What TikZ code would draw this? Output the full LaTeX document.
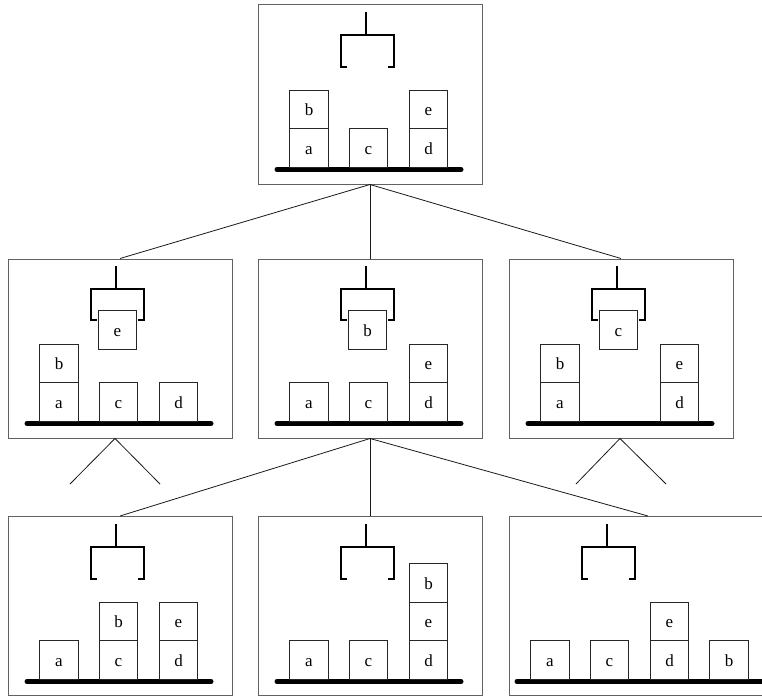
\documentclass[tikz,border=0pt]{standalone}
\usepackage{fontspec}
\setmainfont{Liberation Serif}
\begin{document}
\begin{tikzpicture}[x=1pt,y=-1pt,
  panel/.style={draw=black!62,line width=1pt,minimum width=224pt,minimum height=179pt,inner sep=0pt},
  blk/.style={draw=black!85,fill=white,line width=0.7pt,minimum size=38.5pt,inner sep=0pt,
    text height=12pt,text depth=0pt,font=\fontsize{17}{19}\selectfont},
  grip/.style={line width=1.8pt,line cap=butt},
  ground/.style={line width=5pt,line cap=round},
  link/.style={draw=black!90,line width=0.8pt}]
\useasboundingbox (0,0) rectangle (762,698);
\clip (0,0) rectangle (762,698);
% panels
\node[panel] (P0) at (370,94.5) {};
\node[panel] (P1) at (120,348.5) {};
\node[panel] (P2) at (370,348.5) {};
\node[panel] (P3) at (621,348.5) {};
\node[panel] (P4) at (120,606) {};
\node[panel] (P5) at (370,606) {};
\node[panel,minimum width=278pt] (P6) at (648,606) {};
% connectors
\draw[link] (P0.south) -- (P1.north);
\draw[link] (P0.south) -- (P2.north);
\draw[link] (P0.south) -- (P3.north);
\draw[link] (P2.south) -- (P4.north);
\draw[link] (P2.south) -- (P5.north);
\draw[link] (P2.south) -- (P6.north);
\coordinate (A1) at (115,438.5);
\coordinate (F1l) at (70,484);
\coordinate (F1r) at (160,484);
\coordinate (A3) at (620,438.5);
\coordinate (F3l) at (576,484);
\coordinate (F3r) at (666,484);
\draw[link] (F1l) -- (A1) -- (F1r);
\draw[link] (F3l) -- (A3) -- (F3r);
% P0 contents
\begin{scope}[shift={(258,5)}]
  \draw[grip] (108,7) -- (108,30);
  \draw[grip] (89,62) -- (83,62) -- (83,30) -- (136,30) -- (136,62) -- (130,62);
  \draw[ground] (19,164.5) -- (203,164.5);
  \node[blk] (P0a) at (51,143) {a};
  \node[blk] (P0b) at (51,104.5) {b};
  \node[blk] (P0c) at (110.5,143) {c};
  \node[blk] (P0d) at (170.5,143) {d};
  \node[blk] (P0e) at (170.5,104.5) {e};
\end{scope}
% P1 contents
\begin{scope}[shift={(8,259)}]
  \draw[grip] (108,7) -- (108,30);
  \draw[grip] (89,61) -- (83,61) -- (83,30) -- (136,30) -- (136,61) -- (130,61);
  \draw[ground] (19,164.5) -- (203,164.5);
  \node[blk] (P1e) at (109.5,71) {e};
  \node[blk] (P1a) at (51,143) {a};
  \node[blk] (P1b) at (51,104.5) {b};
  \node[blk] (P1c) at (110.5,143) {c};
  \node[blk] (P1d) at (170.5,143) {d};
\end{scope}
% P2 contents
\begin{scope}[shift={(258,259)}]
  \draw[grip] (108,7) -- (108,30);
  \draw[grip] (89,61) -- (83,61) -- (83,30) -- (136,30) -- (136,61) -- (130,61);
  \draw[ground] (19,164.5) -- (203,164.5);
  \node[blk] (P2b) at (109.5,71) {b};
  \node[blk] (P2a) at (51,143) {a};
  \node[blk] (P2c) at (110.5,143) {c};
  \node[blk] (P2d) at (170.5,143) {d};
  \node[blk] (P2e) at (170.5,104.5) {e};
\end{scope}
% P3 contents
\begin{scope}[shift={(509,259)}]
  \draw[grip] (108,7) -- (108,30);
  \draw[grip] (89,61) -- (83,61) -- (83,30) -- (136,30) -- (136,61) -- (130,61);
  \draw[ground] (19,164.5) -- (203,164.5);
  \node[blk] (P3c) at (109.5,71) {c};
  \node[blk] (P3a) at (51,143) {a};
  \node[blk] (P3b) at (51,104.5) {b};
  \node[blk] (P3d) at (170.5,143) {d};
  \node[blk] (P3e) at (170.5,104.5) {e};
\end{scope}
% P4 contents
\begin{scope}[shift={(8,517)}]
  \draw[grip] (108,7) -- (108,30);
  \draw[grip] (89,62) -- (83,62) -- (83,30) -- (136,30) -- (136,62) -- (130,62);
  \draw[ground] (19,164.5) -- (203,164.5);
  \node[blk] (P4a) at (51,143) {a};
  \node[blk] (P4c) at (110.5,143) {c};
  \node[blk] (P4b) at (110.5,104.5) {b};
  \node[blk] (P4d) at (170.5,143) {d};
  \node[blk] (P4e) at (170.5,104.5) {e};
\end{scope}
% P5 contents
\begin{scope}[shift={(258,517)}]
  \draw[grip] (108,7) -- (108,30);
  \draw[grip] (89,62) -- (83,62) -- (83,30) -- (136,30) -- (136,62) -- (130,62);
  \draw[ground] (19,164.5) -- (203,164.5);
  \node[blk] (P5a) at (51,143) {a};
  \node[blk] (P5c) at (110.5,143) {c};
  \node[blk] (P5d) at (170.5,143) {d};
  \node[blk] (P5e) at (170.5,104.5) {e};
  \node[blk] (P5b) at (170.5,66) {b};
\end{scope}
% P6 contents
\begin{scope}[shift={(509,517)}]
  \draw[grip] (98,7) -- (98,30);
  \draw[grip] (79,62) -- (73,62) -- (73,30) -- (126,30) -- (126,62) -- (120,62);
  \draw[ground] (8,164.5) -- (275,164.5);
  \node[blk] (P6a) at (41,143) {a};
  \node[blk] (P6c) at (100.5,143) {c};
  \node[blk] (P6d) at (160.5,143) {d};
  \node[blk] (P6e) at (160.5,104.5) {e};
  \node[blk] (P6b) at (220,143) {b};
\end{scope}
\end{tikzpicture}
\end{document}
